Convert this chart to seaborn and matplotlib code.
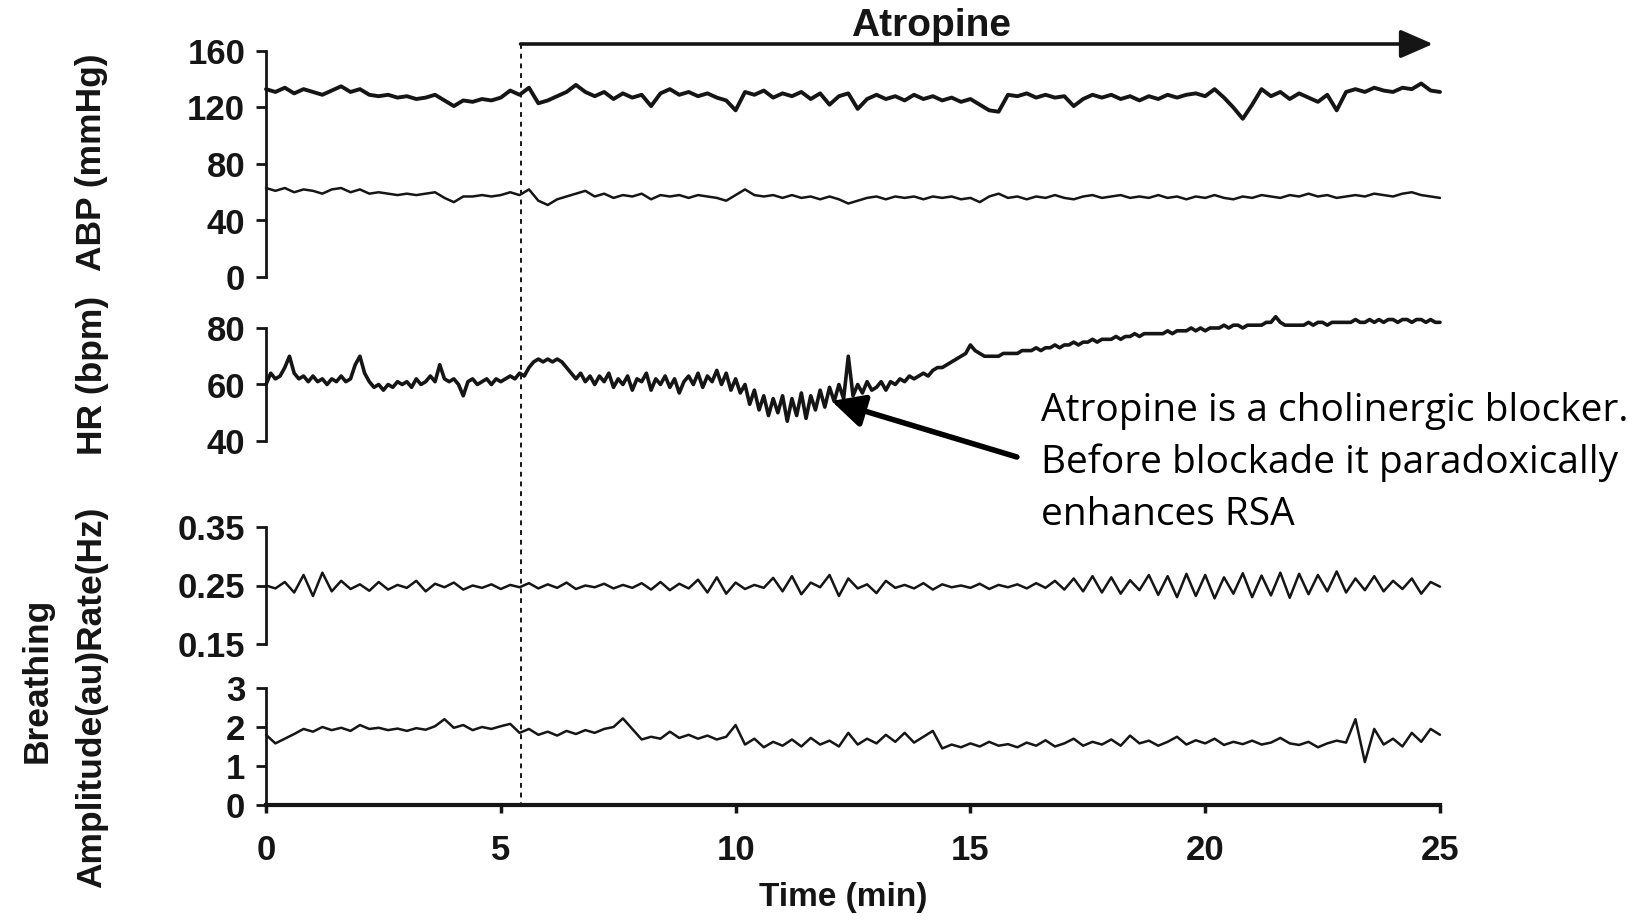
import numpy as np
import pandas as pd
import seaborn as sns
import matplotlib.pyplot as plt

# ---- data ----
# ABP, sampled every 0.2 min (0 .. 25 min)
abp_sys = [133, 131, 134, 130, 133, 131, 129, 132, 135, 131,
           133, 129, 128, 129, 127, 128, 126, 127, 129, 125,
           121, 125, 124, 126, 125, 127, 132, 129, 134, 123,
           125, 128, 131, 136, 131, 128, 131, 126, 130, 127,
           129, 121, 130, 133, 129, 131, 128, 130, 127, 125,
           118, 131, 129, 132, 127, 130, 128, 131, 126, 130,
           122, 128, 130, 119, 126, 129, 126, 128, 125, 129,
           126, 128, 125, 127, 124, 126, 122, 118, 117, 129,
           128, 130, 127, 129, 127, 128, 121, 126, 129, 127,
           129, 126, 128, 125, 128, 126, 129, 127, 129, 130,
           128, 133, 127, 120, 112, 122, 133, 128, 131, 126,
           130, 127, 124, 129, 118, 131, 133, 131, 134, 132,
           131, 134, 133, 137, 132, 131]
abp_dia = [63, 61, 63, 60, 62, 61, 59, 62, 63, 60,
           62, 59, 60, 59, 58, 59, 58, 59, 60, 56,
           53, 57, 57, 58, 57, 58, 60, 58, 62, 54,
           51, 55, 57, 59, 61, 57, 59, 56, 58, 57,
           59, 55, 58, 57, 58, 56, 58, 57, 56, 54,
           58, 62, 58, 57, 58, 56, 58, 56, 57, 55,
           57, 55, 52, 54, 56, 57, 55, 57, 56, 57,
           55, 57, 56, 57, 55, 56, 53, 57, 59, 56,
           57, 55, 57, 56, 58, 56, 55, 57, 58, 56,
           57, 58, 56, 57, 56, 58, 56, 57, 55, 57,
           56, 58, 56, 55, 57, 56, 58, 57, 56, 58,
           57, 59, 57, 58, 56, 57, 58, 57, 59, 58,
           57, 59, 60, 58, 57, 56]

# heart rate, sampled every 0.1 min (one row per minute)
hr = [60, 64, 62, 63, 66, 70, 64, 62, 63, 61,
      63, 61, 62, 60, 62, 61, 63, 61, 62, 67,
      70, 64, 61, 59, 60, 58, 60, 59, 61, 60,
      61, 59, 62, 60, 61, 63, 61, 67, 62, 61,
      62, 60, 56, 61, 62, 60, 61, 62, 60, 62,
      61, 62, 63, 62, 64, 63, 66, 68, 69, 68,
      69, 68, 69, 68, 66, 64, 62, 64, 61, 63,
      60, 63, 61, 64, 59, 62, 60, 63, 58, 62,
      61, 64, 58, 62, 60, 63, 59, 62, 57, 61,
      63, 60, 64, 59, 63, 61, 65, 60, 64, 58,
      62, 57, 60, 53, 58, 51, 56, 49, 55, 50,
      56, 47, 55, 49, 57, 48, 56, 51, 58, 52,
      59, 54, 60, 55, 70, 56, 60, 57, 61, 58,
      59, 61, 58, 61, 60, 62, 61, 63, 62, 63,
      64, 63, 65, 66, 66, 67, 68, 69, 70, 71,
      74, 72, 71, 70, 70, 70, 70, 71, 71, 71,
      71, 72, 72, 72, 73, 72, 73, 73, 74, 73,
      74, 74, 75, 74, 75, 75, 76, 75, 76, 76,
      76, 77, 76, 77, 77, 78, 77, 78, 78, 78,
      78, 78, 79, 78, 79, 79, 79, 80, 79, 80,
      79, 80, 80, 80, 81, 80, 81, 81, 80, 81,
      81, 81, 81, 82, 82, 84, 82, 81, 81, 81,
      81, 81, 82, 81, 82, 82, 81, 82, 82, 82,
      82, 82, 83, 82, 82, 83, 82, 83, 82, 83,
      83, 82, 83, 83, 82, 83, 83, 82, 83, 82,
      82]

# breathing rate (Hz) and amplitude (au), sampled every 0.2 min
br_rate = [0.250, 0.245, 0.256, 0.238, 0.268, 0.232, 0.272, 0.240, 0.258, 0.244,
           0.252, 0.241, 0.256, 0.243, 0.251, 0.246, 0.258, 0.240, 0.253, 0.247,
           0.255, 0.243, 0.250, 0.246, 0.252, 0.244, 0.251, 0.247, 0.254, 0.245,
           0.252, 0.246, 0.255, 0.244, 0.250, 0.247, 0.253, 0.245, 0.251, 0.246,
           0.254, 0.243, 0.256, 0.242, 0.253, 0.245, 0.260, 0.238, 0.264, 0.236,
           0.255, 0.244, 0.251, 0.246, 0.263, 0.240, 0.266, 0.235, 0.255, 0.247,
           0.268, 0.232, 0.262, 0.245, 0.252, 0.237, 0.258, 0.246, 0.251, 0.245,
           0.254, 0.243, 0.252, 0.247, 0.250, 0.246, 0.253, 0.244, 0.251, 0.247,
           0.252, 0.245, 0.254, 0.246, 0.258, 0.243, 0.262, 0.240, 0.266, 0.238,
           0.264, 0.236, 0.259, 0.242, 0.268, 0.234, 0.266, 0.230, 0.270, 0.232,
           0.268, 0.228, 0.264, 0.236, 0.271, 0.230, 0.267, 0.233, 0.272, 0.229,
           0.270, 0.235, 0.268, 0.240, 0.274, 0.238, 0.262, 0.242, 0.266, 0.240,
           0.258, 0.244, 0.262, 0.236, 0.256, 0.248]
br_amp = [1.80, 1.58, 1.70, 1.82, 1.95, 1.88, 2.00, 1.92, 1.98, 1.90,
          2.05, 1.95, 1.98, 1.92, 1.96, 1.90, 1.97, 1.93, 2.02, 2.20,
          1.98, 2.05, 1.92, 2.00, 1.95, 2.02, 2.08, 1.85, 1.95, 1.80,
          1.88, 1.78, 1.90, 1.82, 1.92, 1.85, 1.95, 2.00, 2.22, 1.95,
          1.68, 1.75, 1.70, 1.88, 1.72, 1.80, 1.70, 1.78, 1.68, 1.75,
          2.05, 1.55, 1.70, 1.48, 1.62, 1.52, 1.68, 1.50, 1.72, 1.55,
          1.65, 1.50, 1.85, 1.55, 1.70, 1.58, 1.80, 1.62, 1.85, 1.60,
          1.75, 1.90, 1.45, 1.55, 1.48, 1.58, 1.50, 1.62, 1.52, 1.56,
          1.48, 1.60, 1.52, 1.66, 1.50, 1.58, 1.70, 1.52, 1.62, 1.55,
          1.68, 1.52, 1.78, 1.58, 1.65, 1.52, 1.62, 1.75, 1.55, 1.66,
          1.58, 1.70, 1.54, 1.62, 1.56, 1.65, 1.55, 1.60, 1.72, 1.58,
          1.54, 1.62, 1.48, 1.58, 1.65, 1.60, 2.20, 1.10, 1.95, 1.55,
          1.70, 1.50, 1.85, 1.62, 1.95, 1.80]

t_coarse = np.linspace(0, 25, len(abp_sys))
t_fine = np.linspace(0, 25, len(hr))

atropine_start = 5.42
atropine_end = 24.7
x_ticks = [0, 5, 10, 15, 20, 25]
abp_ticks = [0, 40, 80, 120, 160]
hr_ticks = [40, 60, 80]
rate_ticks = [0.15, 0.25, 0.35]
amp_ticks = [0, 1, 2, 3]
note_lines = ["Atropine is a cholinergic blocker.",
              "Before blockade it paradoxically",
              "enhances RSA"]

sns.set_theme(style="ticks")
plt.rcParams['font.family'] = ['Liberation Sans', 'DejaVu Sans']
plt.rcParams['font.weight'] = 'bold'

W, H = 1642, 921
fig = plt.figure(figsize=(W / 100, H / 100), dpi=100)
ink = '#151515'
X0, X1 = 266, 1440  # pixel span of 0..25 min
TICK_FS = 25


def panel(top, bottom, ticks, labels):
    ax = fig.add_axes([X0 / W, 1 - bottom / H, (X1 - X0) / W, (bottom - top) / H])
    ax.set_xlim(0, 25)
    ax.set_ylim(ticks[0], ticks[-1])
    ax.set_yticks(ticks)
    ax.set_yticklabels(labels)
    sns.despine(ax=ax, bottom=True)
    ax.spines['left'].set_linewidth(2)
    ax.spines['left'].set_color(ink)
    ax.tick_params(axis='y', length=7, width=2, pad=8, labelsize=TICK_FS, colors=ink)
    ax.set_xticks([])
    ax.patch.set_alpha(0)
    return ax


def trace(ax, x, y, lw):
    sns.lineplot(x=x, y=y, ax=ax, color=ink, linewidth=lw, estimator=None, sort=False)
    ax.lines[-1].set_clip_on(False)


ax_abp = panel(51, 277, abp_ticks, [str(v) for v in abp_ticks])
trace(ax_abp, t_coarse, abp_sys, 2.8)
trace(ax_abp, t_coarse, abp_dia, 1.8)

ax_hr = panel(328, 441, hr_ticks, [str(v) for v in hr_ticks])
trace(ax_hr, t_fine, hr, 2.6)

ax_rate = panel(527, 644, rate_ticks, ["0.15", "0.25", "0.35"])
trace(ax_rate, t_coarse, br_rate, 1.8)

ax_amp = panel(688, 805, amp_ticks, [str(v) for v in amp_ticks])
trace(ax_amp, t_coarse, br_amp, 1.8)
ax_amp.spines['bottom'].set_visible(True)
ax_amp.spines['bottom'].set_linewidth(3)
ax_amp.spines['bottom'].set_color(ink)
ax_amp.set_xticks(x_ticks)
ax_amp.set_xticklabels([str(v) for v in x_ticks])
ax_amp.tick_params(axis='x', length=6, width=2.5, pad=15, labelsize=TICK_FS, colors=ink)

# overlay in (minutes, figure pixels) for the dashed line and arrows
ov = fig.add_axes([X0 / W, 0, (X1 - X0) / W, 1])
ov.set_xlim(0, 25)
ov.set_ylim(H, 0)
ov.axis('off')
ov.plot([atropine_start, atropine_start], [44, 805], color=ink, lw=1.4,
        ls=(0, (2.5, 2.5)))
ov.annotate('', xy=(atropine_end + 0.15, 44), xytext=(atropine_start, 44),
            arrowprops=dict(arrowstyle='-|>,head_length=0.8,head_width=0.35',
                            lw=2.6, color=ink, mutation_scale=25,
                            shrinkA=0, shrinkB=0))
ov.text(14.16, 26, 'Atropine', ha='center', va='center', fontsize=28,
        weight='bold', color=ink)
ov.annotate('', xy=(12.04, 401), xytext=(15.99, 457),
            arrowprops=dict(arrowstyle='-|>,head_length=0.9,head_width=0.45',
                            lw=4, color='black', mutation_scale=22,
                            shrinkA=0, shrinkB=0))

for line, base in zip(note_lines, [421, 473, 525]):
    fig.text(1041 / W, 1 - base / H, line, ha='left', va='baseline',
             fontsize=28, family=['Open Sans', 'DejaVu Sans'], weight='normal',
             color='black')

# axis titles
TITLE_FS = 25.5
fig.text(92 / W, 1 - 162 / H, 'ABP (mmHg)', rotation=90, ha='center',
         va='center', fontsize=TITLE_FS, weight='bold', color=ink)
fig.text(92 / W, 1 - 375 / H, 'HR (bpm)', rotation=90, ha='center',
         va='center', fontsize=TITLE_FS, weight='bold', color=ink)
fig.text(37 / W, 1 - 680 / H, 'Breathing', rotation=90, ha='center',
         va='center', fontsize=TITLE_FS, weight='bold', color=ink)
fig.text(92 / W, 1 - 697 / H, 'Amplitude(au)Rate(Hz)', rotation=90,
         ha='center', va='center', fontsize=TITLE_FS, weight='bold', color=ink)
fig.text(((X0 + X1) / 2 - 10) / W, 1 - 897 / H, 'Time (min)', ha='center',
         va='center', fontsize=24, weight='bold', color=ink)

fig.savefig('out.png', dpi=100, facecolor='white')
